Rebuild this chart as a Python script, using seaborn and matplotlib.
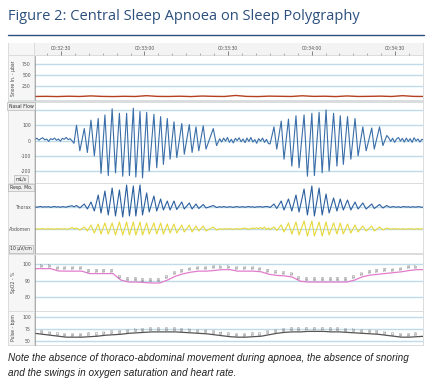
import numpy as np
import pandas as pd
import seaborn as sns
import matplotlib.pyplot as plt

W, H = 432, 386

# time axis (seconds relative to 00:32:30)
tick_secs = [0, 30, 60, 90, 120]
tick_labels = ["00:32:30", "00:33:00", "00:33:30", "00:34:00", "00:34:30"]
t_min, t_max = -9.3, 130.0

# breath extremes, first and second burst (s)
b1_t = [5.6, 6.8, 8.4, 9.5, 10.8, 12.0, 13.4, 14.4, 15.8, 17.0, 18.4, 19.6, 21.0, 22.2,
        23.6, 24.6, 26.0, 26.9, 28.4, 29.3, 30.8, 31.7, 33.4, 34.4, 35.8, 36.8, 38.2, 39.2,
        40.6, 41.6, 43.4, 44.3, 46.1, 47.1, 48.5, 49.5, 51.1, 52.1, 54.7, 55.9]
b2_t = [75.1, 76.5, 77.5, 79.1, 80.1, 81.7, 82.9, 84.4, 85.5, 87.3, 88.5, 90.1, 91.0, 92.7,
        93.8, 95.2, 96.3, 97.9, 99.1, 100.3, 101.4, 102.9, 104.1, 105.6, 106.7, 108.4,
        109.6, 111.6, 112.5, 114.4, 115.6, 117.0]

# nasal flow (mL/s)
nasal_q1 = [8, 15, 2, 12, 18, 4, 10, -6, 12, 6, 16, 2, 10, -4, 14, 8, 20, 6, 12, -2, -18]
nasal_b1 = [100, -67, 78, -78, 133, -100, 144, -215, 167, -229, 207, -211, 178, -233, 178, -229,
            211, -238, 189, -244, 184, -200, 171, -178, 156, -156, 144, -122, 122, -111, 111, -89,
            104, -78, 89, -67, 96, -56, 78, -33]
nasal_q2 = [12, -10, 16, -4, 20, -12, 8, -16, 14, 0, 18, -8, 10, -14, 16, -6, 20, -10, 6, -18,
            12, -4, 16, -12, 8, -20]
nasal_b2 = [-22, 89, -56, 127, -122, 140, -167, 162, -178, 167, -233, 178, -229, 184, -211, 200,
            -200, 178, -167, 162, -156, 156, -122, 144, -100, 89, -67, 82, -56, 89, -33, 33]
nasal_q3 = [18, -6, 15, -12, 10, 20, -4, 14, -10, 16, -6, 12, -12, 18, -2, 10, -10, 8, 2]

# thorax / abdomen effort (arbitrary units)
thorax_q1 = [0.4, -0.3, 0.2, 0.5, -0.2, 0.3, 0, 0.4, -0.4, 0.2, 0.5, -0.1, 0.3, -0.3, 0.4, 0.1,
             -0.2, 0.5, 0.8, 1.2, 0.2]
thorax_b1 = [1.5, -1, 3, -2, 5, -4, 12, -6, 16, -8, 19, -9, 17, -10, 22, -9, 21, -9, 22, -8,
             14, -5, 11, -4, 8, -3, 6, -3, 6, -2.5, 5, -2, 4, -2, 3, -1.5, 2.5, -1, 1.5, -0.5]
thorax_q2 = [0.3, -0.2, 0.4, 0, -0.3, 0.3, 0.1, -0.4, 0.2, 0.4, -0.2, 0.1, 0.3, -0.3, 0.2, 0.4,
             -0.1, 0.3, -0.4, 0.2, 0.1, 0.4, -0.2, 0.3, 0.5, 0.2]
thorax_b2 = [-0.5, 3, -1.5, 6, -3, 8, -4, 12, -5, 18, -8, 21, -9, 19, -8, 13, -6, 9, -4, 8,
             -3, 7, -3, 5, -2, 4, -2, 3, -1.5, 2.5, -1, 1.5]
thorax_q3 = [0.2, -0.3, 0.4, 0.1, -0.2, 0.3, -0.4, 0.2, 0.4, -0.1, 0.3, -0.3, 0.2, 0.1, -0.2,
             0.4, 0, -0.3, 0.2]

abdomen_q1 = [0, 0.3, -0.2, 0.2, 0.4, -0.3, 0.1, 0.3, -0.1, 0.2, -0.3, 0.4, 0, 0.2, -0.2, 0.3,
              0.1, -0.2, 0.6, 1.5, 0.3]
abdomen_b1 = [1, -1, 2, -2, 4, -4, 5, -5, 6, -5, 6, -6, 7, -6, 7, -6, 7, -6, 7, -6, 6, -5, 6, -5,
              6, -5, 5, -4, 5, -4, 4, -3, 4, -3, 3, -2, 3, -2, 2, -1]
abdomen_q2 = [0.2, -0.3, 0.1, 0.3, -0.2, 0.4, 0, -0.3, 0.2, 0.3, -0.1, 0.2, 0.5, 0.9, 0.3, -0.2,
              0.4, 1.0, 0.5, 1.2, 0.4, 1.5, 0.2, 1.8, -0.5, 1.0]
abdomen_b2 = [-0.5, 2, -1.5, 4, -3, 6, -5, 7, -6, 8, -7, 8, -7, 7, -7, 7, -6, 6, -5, 6, -5, 5,
              -4, 4, -3, 3, -2, 3, -2, 2, -1, 1]
abdomen_q3 = [0.3, -0.2, 0.2, 0.4, -0.1, 0.3, -0.3, 0.2, 0.1, -0.2, 0.3, 0, 0.2, -0.3, 0.1, 0.3,
              -0.2, 0.2, 0]

# snore (µbar), one reading every 4 s
snore_vals = [12, 15, 10, 18, 12, 25, 14, 10, 16, 12, 30, 14, 12, 18, 10, 22, 15, 12, 35, 14,
              10, 20, 16, 12, 28, 14, 18, 10, 24, 12, 15, 20, 12, 30, 14, 12]

# SpO2 (%) and pulse (bpm), one reading every 2.8 s
spo2_vals = [97.4, 97.4, 97.4, 96.0, 95.9, 95.9, 95.9, 94.4, 94.4, 94.4, 94.4, 90.5, 89.3, 89.3,
             89.0, 88.7, 88.7, 90.5, 92.8, 94.3, 95.3, 95.9, 95.9, 96.3, 96.8, 96.8, 95.9, 95.9,
             95.9, 95.5, 94.0, 93.3, 93.0, 92.3, 89.8, 89.3, 89.3, 89.3, 89.3, 89.3, 89.3, 90.5,
             92.5, 93.5, 94.0, 94.5, 95.0, 95.5, 96.3, 96.8, 96.8]
pulse_vals = [66, 64, 62, 60, 58, 58, 58, 59, 60, 62, 63, 64, 66, 67, 68, 69, 69, 69, 69, 68,
              67, 66, 65, 63, 61, 59, 58, 58, 59, 60, 63, 66, 68, 69, 69, 70, 70, 70, 69, 69,
              68, 67, 66, 65, 64, 62, 60, 58, 58, 59, 60]

GRID = "#bfdbe7"


def box(x0, y0, x1, y1):
    return [x0 / W, 1 - y1 / H, (x1 - x0) / W, (y1 - y0) / H]


def grid_t(start, step, vals):
    return start + step * np.arange(len(vals))


def trace(q1, b1, q2, b2, q3):
    t = np.concatenate([grid_t(-9.3, 0.7, q1), b1_t, grid_t(57.0, 0.7, q2), b2_t,
                        grid_t(117.7, 0.7, q3)])
    v = np.concatenate([q1, b1, q2, b2, q3]).astype(float)
    return pd.DataFrame({"t": t, "v": v})


def style_panel(ax, ylim, ticks, labels=None):
    ax.set_facecolor("white")
    ax.set_xlim(t_min, t_max)
    ax.set_ylim(*ylim)
    ax.set_xticks([])
    for y in ticks:
        ax.axhline(y, color=GRID, lw=1.0, zorder=0)
    ax.set_yticks(ticks)
    ax.set_yticklabels(labels if labels is not None else [str(v) for v in ticks])
    ax.set_yticks(np.linspace(ylim[0], ylim[1], 14), minor=True)
    ax.tick_params(axis="y", which="major", length=2, width=0.5, pad=1, labelsize=3.3,
                   colors="#555555")
    ax.tick_params(axis="y", which="minor", length=1, width=0.4, colors="#777777")
    for s in ["top", "right", "bottom"]:
        ax.spines[s].set_visible(False)
    ax.spines["left"].set_color("#888888")
    ax.spines["left"].set_linewidth(0.5)
    ax.set_xlabel("")
    ax.set_ylabel("")


def tag(x, y, s):
    fig.text(x / W, 1 - y / H, s, fontsize=3.3, color="#333333", ha="center", va="center",
             bbox=dict(boxstyle="square,pad=0.3", fc="#eeeeee", ec="#aaaaaa", lw=0.4))


sns.set_theme(style="white")
plt.rcParams["font.family"] = ["DejaVu Sans"]

fig = plt.figure(figsize=(W / 100, H / 100), dpi=100)
fig.patch.set_facecolor("white")

fig.text(8 / W, 1 - 16 / H, "Figure 2: Central Sleep Apnoea on Sleep Polygraphy",
         fontsize=10.5, color="#2d4f7c", family="Open Sans", va="center", ha="left")
fig.add_artist(plt.Line2D([8 / W, 424 / W], [1 - 35 / H, 1 - 35 / H], color="#2d4f7c", lw=1.0))

frame = fig.add_axes(box(8, 43, 424, 346))
frame.set_facecolor("#dadcde")
frame.set_xticks([])
frame.set_yticks([])
for s in frame.spines.values():
    s.set_visible(False)

# left label column boxes
for y0, y1 in [(43, 55), (56, 100), (103, 182.5), (184, 253), (254.5, 310.5), (312, 345)]:
    lc = fig.add_axes(box(9, y0, 34, y1))
    lc.set_facecolor("#f6f6f6")
    lc.set_xticks([])
    lc.set_yticks([])
    for s in lc.spines.values():
        s.set_visible(False)

# header with time labels
hdr = fig.add_axes(box(35, 43, 423, 55))
hdr.set_facecolor("#f3f3f3")
hdr.set_xlim(t_min, t_max)
hdr.set_yticks([])
hdr.set_xticks(tick_secs)
hdr.set_xticklabels(tick_labels)
hdr.set_xticks(np.arange(-5, 130, 5), minor=True)
hdr.tick_params(axis="x", which="major", bottom=True, top=False, labelbottom=False,
                labeltop=True, direction="in", length=3, width=0.5, colors="#555555",
                labelsize=3.3, pad=-6)
hdr.tick_params(axis="x", which="minor", bottom=True, top=False, direction="in",
                length=1.5, width=0.4, colors="#777777")
for s in hdr.spines.values():
    s.set_visible(False)

# snore
ax_sn = fig.add_axes(box(35, 56, 423, 100))
snore = pd.DataFrame({"t": grid_t(-9.3, 4.0, snore_vals), "v": snore_vals})
sns.lineplot(data=snore, x="t", y="v", ax=ax_sn, color="#b5401f", lw=1.0, estimator=None)
style_panel(ax_sn, (-68, 932), [250, 500, 750])
fig.text(13 / W, 1 - 78 / H, "Snore In. - µbar", rotation=90, fontsize=3.3, color="#444444",
         ha="center", va="center")

# nasal flow
ax_nf = fig.add_axes(box(35, 103, 423, 182.5))
nasal = trace(nasal_q1, nasal_b1, nasal_q2, nasal_b2, nasal_q3)
sns.lineplot(data=nasal, x="t", y="v", ax=ax_nf, color="#3a6ea8", lw=0.8, estimator=None)
style_panel(ax_nf, (-274, 245), [-200, -100, 0, 100, 200], ["-200", "-100", "0", "100", ""])
tag(21, 106, "Nasal Flow")
tag(21, 179, "mL/s")

# thorax / abdomen
thorax_off, abdomen_off = 46, 24
ax_rs = fig.add_axes(box(35, 184, 423, 253))
thorax = trace(thorax_q1, thorax_b1, thorax_q2, thorax_b2, thorax_q3)
abdomen = trace(abdomen_q1, abdomen_b1, abdomen_q2, abdomen_b2, abdomen_q3)
thorax["v"] += thorax_off
abdomen["v"] += abdomen_off
style_panel(ax_rs, (0, 69), [abdomen_off, thorax_off], ["Abdomen", "Thorax"])
ax_rs.set_yticks([], minor=True)
sns.lineplot(data=thorax, x="t", y="v", ax=ax_rs, color="#2c5f9e", lw=0.8, estimator=None)
sns.lineplot(data=abdomen, x="t", y="v", ax=ax_rs, color="#e6d83a", lw=0.8, estimator=None)
ax_rs.set_xlabel("")
ax_rs.set_ylabel("")
tag(21, 187.5, "Resp. Mo.")
tag(21, 249, "10 µV/cm")

# SpO2
ax_sp = fig.add_axes(box(35, 254.5, 423, 310.5))
spo2 = pd.DataFrame({"t": grid_t(-9.3, 2.8, spo2_vals), "v": spo2_vals})
sns.lineplot(data=spo2, x="t", y="v", ax=ax_sp, color="#e27ccc", lw=0.9, estimator=None)
style_panel(ax_sp, (72.0, 106.0), [80, 90, 100])
for t, v in zip(spo2["t"], spo2["v"]):
    if t_min + 1 < t < t_max - 1:
        ax_sp.text(t, v + 2.7, str(int(round(v))), rotation=90, fontsize=2.8, color="#666666",
                   ha="center", va="center")
fig.text(13 / W, 1 - 282 / H, "SpO2 - %", rotation=90, fontsize=3.3, color="#444444",
         ha="center", va="center")

# pulse
ax_pu = fig.add_axes(box(35, 312, 423, 345))
pulse = pd.DataFrame({"t": grid_t(-9.3, 2.8, pulse_vals), "v": pulse_vals})
sns.lineplot(data=pulse, x="t", y="v", ax=ax_pu, color="#555555", lw=0.9, estimator=None)
style_panel(ax_pu, (41.7, 110.4), [50, 75, 100])
for t, v in zip(pulse["t"], pulse["v"]):
    if t_min + 1 < t < t_max - 1:
        ax_pu.text(t, v + 8, str(int(v)), rotation=90, fontsize=2.8, color="#666666",
                   ha="center", va="center")
fig.text(13 / W, 1 - 328 / H, "Pulse - bpm", rotation=90, fontsize=3.3, color="#444444",
         ha="center", va="center")

fig.text(8 / W, 1 - 358 / H,
         "Note the absence of thoraco-abdominal movement during apnoea, the absence of snoring",
         fontsize=7.2, style="italic", family="Liberation Sans", color="#222222", va="center")
fig.text(8 / W, 1 - 373 / H, "and the swings in oxygen saturation and heart rate.",
         fontsize=7.2, style="italic", family="Liberation Sans", color="#222222", va="center")

fig.savefig("out.png", dpi=100)
